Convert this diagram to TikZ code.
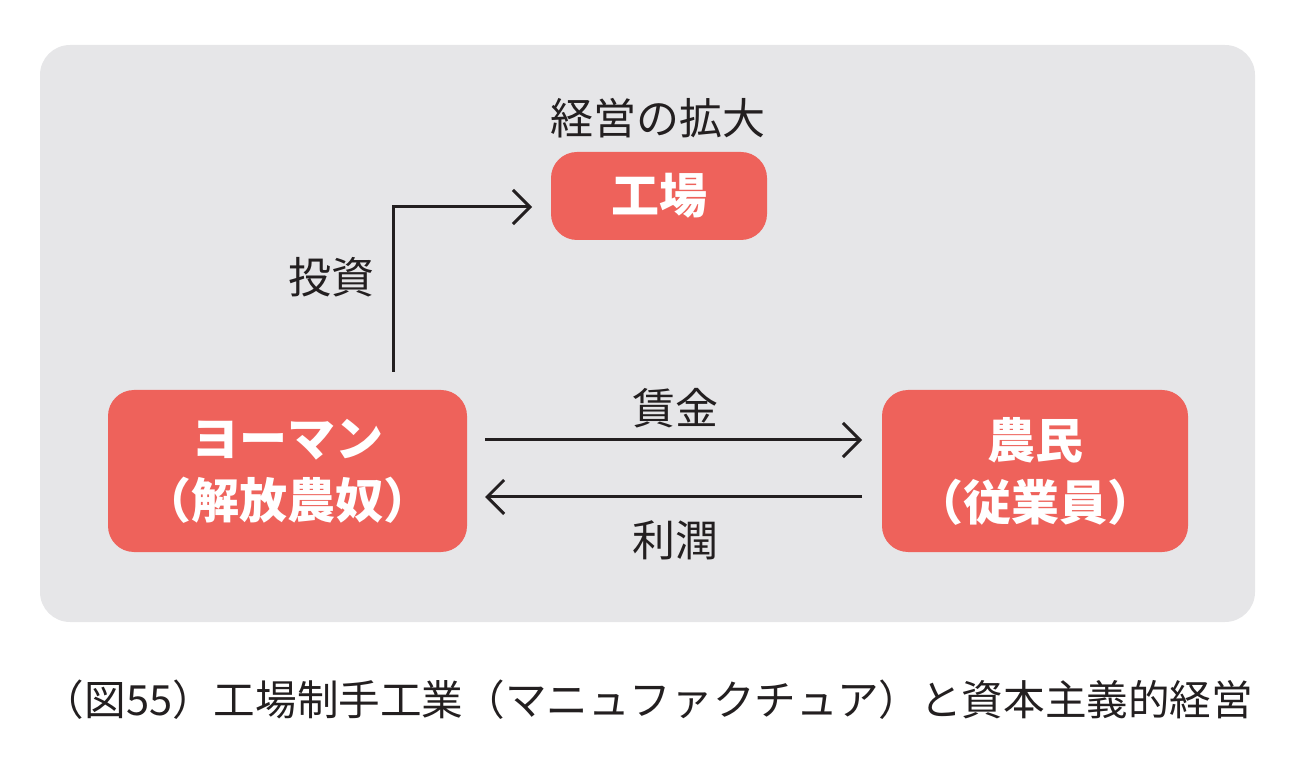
\documentclass[tikz,border=0pt]{standalone}
\usepackage{fontspec}
\setmainfont{Noto Sans CJK JP}
\usetikzlibrary{arrows.meta}
\definecolor{panel}{HTML}{E6E6E8}
\definecolor{coral}{HTML}{EE625B}
\definecolor{ink}{HTML}{231F20}
\tikzset{
 box/.style={fill=coral,rounded corners=13pt,text=white,font=\fontsize{24}{31}\selectfont\bfseries,align=center,inner sep=0pt},
 lbl/.style={text=ink,font=\fontsize{21.5}{25}\selectfont},
 arr/.style={draw=ink,line width=1.5pt,-{Straight Barb[length=8.5pt,width=17pt,line width=1.5pt]}}
}
\begin{document}
\begin{tikzpicture}[x=0.5pt,y=-0.5pt]
\useasboundingbox (0,0) rectangle (1300,774);
\fill[panel,rounded corners=15pt] (40,45) rectangle (1255,622);
\node[box,minimum width=108pt,minimum height=44pt] (f) at (659,196) {工場};
\node[lbl] (fl) at (658,118) {経営の拡大};
\node[box,minimum width=179.5pt,minimum height=81pt] (y) at (287.5,471) {ヨーマン\\（解放農奴）};
\node[box,minimum width=153pt,minimum height=81pt] (n) at (1035,471) {農民\\（従業員）};
\coordinate (s) at (393,372);
\coordinate (c) at (393,207);
\draw[arr] (s) -- (c) -- (532,207);
\node[lbl] (t) at (331,277) {投資};
\draw[arr] (485,440) -- (862,440);
\node[lbl] (w) at (675,408) {賃金};
\draw[arr] (862,497) -- (485,497);
\node[lbl] (p) at (675,540) {利潤};
\node[text=ink,font=\fontsize{20.8}{25}\selectfont] (cap) at (648,700) {（図55）工場制手工業（マニュファクチュア）と資本主義的経営};
\end{tikzpicture}
\end{document}
